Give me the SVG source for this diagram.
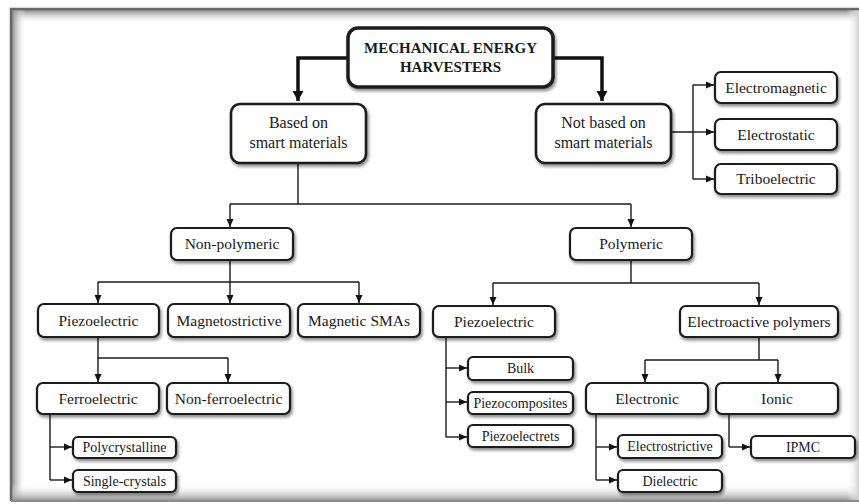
<svg xmlns="http://www.w3.org/2000/svg" width="859" height="504" viewBox="0 0 859 504">
<style>
.box{fill:#fff;stroke:#1a1a1a;stroke-width:2.2;filter:url(#sh)}
.ln{fill:none;stroke:#1a1a1a;stroke-width:1.4}
.arr{marker-end:url(#ah)}
.thick{fill:none;stroke:#111;stroke-width:3.5;marker-end:url(#ahb)}
</style>
<defs>
<filter id="sh" x="-20%" y="-30%" width="140%" height="170%">
<feDropShadow dx="1.5" dy="2.5" stdDeviation="1.6" flood-color="#000" flood-opacity="0.45"/>
</filter>
<marker id="ah" markerUnits="userSpaceOnUse" markerWidth="10" markerHeight="10" refX="8" refY="4" orient="auto">
<path d="M0,0.5 L8,4 L0,7.5 Z" fill="#111"/>
</marker>
<marker id="ahb" markerUnits="userSpaceOnUse" markerWidth="14" markerHeight="14" refX="10" refY="6" orient="auto">
<path d="M0,0.5 L10,6 L0,11.5 Z" fill="#111"/>
</marker>
<linearGradient id="gt" x1="0" y1="0" x2="0" y2="1"><stop offset="0" stop-color="#8a8a8a"/><stop offset="1" stop-color="#fff" stop-opacity="0"/></linearGradient>
<linearGradient id="gl" x1="0" y1="0" x2="1" y2="0"><stop offset="0" stop-color="#8a8a8a"/><stop offset="1" stop-color="#fff" stop-opacity="0"/></linearGradient>
<linearGradient id="gb" x1="0" y1="1" x2="0" y2="0"><stop offset="0" stop-color="#9a9a9a"/><stop offset="1" stop-color="#fff" stop-opacity="0"/></linearGradient>
<linearGradient id="gr" x1="1" y1="0" x2="0" y2="0"><stop offset="0" stop-color="#d0d0d0"/><stop offset="1" stop-color="#fff" stop-opacity="0"/></linearGradient>
</defs>
<rect x="0" y="0" width="859" height="504" fill="#fff"/>
<g id="frame">
<rect x="12" y="10" width="847" height="14" fill="url(#gt)"/>
<rect x="12" y="10" width="14" height="490" fill="url(#gl)"/>
<rect x="12" y="484" width="847" height="16" fill="url(#gb)"/>
<rect x="847" y="10" width="12" height="490" fill="url(#gr)"/>
<path d="M11,501 V9 H859" fill="none" stroke="#6a6a6a" stroke-width="2.5"/>
<path d="M11,501 H859" fill="none" stroke="#8a8a8a" stroke-width="2"/>
</g>
<g id="connectors">
<path class="thick" d="M348,58 H298 V101"/>
<path class="thick" d="M553,58 H602 V101"/>
<path class="ln" d="M298,163 V204 M230,204 H631"/>
<path class="ln arr" d="M230,204 V227"/>
<path class="ln arr" d="M631,204 V227"/>
<path class="ln" d="M671,132 H693 M693,85 V179"/>
<path class="ln arr" d="M693,85 H714"/>
<path class="ln arr" d="M693,132 H714"/>
<path class="ln arr" d="M693,179 H714"/>
<path class="ln" d="M230,260 V282 M98,282 H359"/>
<path class="ln arr" d="M98,282 V303"/>
<path class="ln arr" d="M230,282 V303"/>
<path class="ln arr" d="M359,282 V303"/>
<path class="ln" d="M631,260 V283 M493,283 H759"/>
<path class="ln arr" d="M493,283 V305"/>
<path class="ln arr" d="M759,283 V305"/>
<path class="ln" d="M98,337 V358 H228"/>
<path class="ln arr" d="M98,358 V382"/>
<path class="ln arr" d="M228,358 V382"/>
<path class="ln" d="M50,414 V480"/>
<path class="ln arr" d="M50,447 H72"/>
<path class="ln arr" d="M50,480 H72"/>
<path class="ln" d="M446,337 V437"/>
<path class="ln arr" d="M446,368 H467"/>
<path class="ln arr" d="M446,402 H467"/>
<path class="ln arr" d="M446,437 H467"/>
<path class="ln" d="M759,337 V360 M645,360 H778"/>
<path class="ln arr" d="M645,360 V382"/>
<path class="ln arr" d="M778,360 V382"/>
<path class="ln" d="M596,414 V480"/>
<path class="ln arr" d="M596,447 H617"/>
<path class="ln arr" d="M596,480 H617"/>
<path class="ln" d="M729,414 V447"/>
<path class="ln arr" d="M729,447 H750"/>
</g>
<g font-family="Liberation Serif, serif" fill="#1a1a1a" text-anchor="middle">
<g id="n-title"><rect class="box" x="348" y="28" width="205" height="59" rx="10" style="stroke-width:3.5"/>
<text x="450.5" y="53" font-size="15" font-weight="bold">MECHANICAL ENERGY</text>
<text x="450.5" y="72" font-size="15" font-weight="bold">HARVESTERS</text></g>
<g id="n-based"><rect class="box" x="231" y="104" width="135" height="59" rx="9" style="stroke-width:2.6"/>
<text x="298.5" y="128" font-size="16">Based on</text>
<text x="298.5" y="148" font-size="16">smart materials</text></g>
<g id="n-notbased"><rect class="box" x="536" y="104" width="135" height="59" rx="9" style="stroke-width:2.6"/>
<text x="603.5" y="128" font-size="16">Not based on</text>
<text x="603.5" y="148" font-size="16">smart materials</text></g>
<g id="n-em"><rect class="box" x="715" y="72" width="122" height="31" rx="6"/><text font-size="15.5" x="776" y="92.5">Electromagnetic</text></g>
<g id="n-es"><rect class="box" x="715" y="119" width="122" height="31" rx="6"/><text font-size="15.5" x="776" y="139.5">Electrostatic</text></g>
<g id="n-tribo"><rect class="box" x="715" y="164" width="122" height="30" rx="6"/><text font-size="15.5" x="776" y="184">Triboelectric</text></g>
<g id="n-nonpoly"><rect class="box" x="171" y="228" width="122" height="32" rx="6"/><text font-size="15.5" x="232" y="249">Non-polymeric</text></g>
<g id="n-poly"><rect class="box" x="570" y="228" width="122" height="32" rx="6"/><text font-size="15.5" x="631" y="249">Polymeric</text></g>
<g id="n-piezo1"><rect class="box" x="38" y="304" width="121" height="33" rx="6"/><text font-size="15.5" x="98.5" y="325.5">Piezoelectric</text></g>
<g id="n-magneto"><rect class="box" x="168" y="304" width="122" height="33" rx="6"/><text font-size="15.5" x="229" y="325.5">Magnetostrictive</text></g>
<g id="n-msma"><rect class="box" x="298" y="304" width="122" height="33" rx="6"/><text font-size="15.5" x="359" y="325.5">Magnetic SMAs</text></g>
<g id="n-piezo2"><rect class="box" x="433" y="306" width="122" height="31" rx="6"/><text font-size="15.5" x="494" y="326.5">Piezoelectric</text></g>
<g id="n-eap"><rect class="box" x="680" y="306" width="158" height="31" rx="6"/><text font-size="15.5" x="759" y="326.5">Electroactive polymers</text></g>
<g id="n-ferro"><rect class="box" x="37" y="383" width="122" height="31" rx="6"/><text font-size="15.5" x="98" y="403.5">Ferroelectric</text></g>
<g id="n-nonferro"><rect class="box" x="167" y="383" width="123" height="31" rx="6"/><text font-size="15.5" x="228.5" y="403.5">Non-ferroelectric</text></g>
<g id="n-polyc"><rect class="box" x="73" y="437" width="103" height="21" rx="5"/><text font-size="14" x="124.5" y="452">Polycrystalline</text></g>
<g id="n-single"><rect class="box" x="73" y="470" width="103" height="22" rx="5"/><text font-size="14" x="124.5" y="485.5">Single-crystals</text></g>
<g id="n-bulk"><rect class="box" x="468" y="357" width="105" height="23" rx="5"/><text font-size="14" x="520.5" y="373">Bulk</text></g>
<g id="n-pcomp"><rect class="box" x="468" y="392" width="105" height="22" rx="5"/><text font-size="14" x="520.5" y="407.5">Piezocomposites</text></g>
<g id="n-pelec"><rect class="box" x="468" y="425" width="105" height="22" rx="5"/><text font-size="14" x="520.5" y="440.5">Piezoelectrets</text></g>
<g id="n-electronic"><rect class="box" x="586" y="383" width="122" height="31" rx="6"/><text font-size="15.5" x="647" y="403.5">Electronic</text></g>
<g id="n-ionic"><rect class="box" x="716" y="383" width="122" height="31" rx="6"/><text font-size="15.5" x="777" y="403.5">Ionic</text></g>
<g id="n-estrict"><rect class="box" x="618" y="435" width="104" height="23" rx="5"/><text font-size="14" x="670" y="451">Electrostrictive</text></g>
<g id="n-diel"><rect class="box" x="618" y="470" width="104" height="22" rx="5"/><text font-size="14" x="670" y="485.5">Dielectric</text></g>
<g id="n-ipmc"><rect class="box" x="751" y="436" width="104" height="22" rx="5"/><text font-size="14" x="803" y="451.5">IPMC</text></g>
</g>
</svg>
